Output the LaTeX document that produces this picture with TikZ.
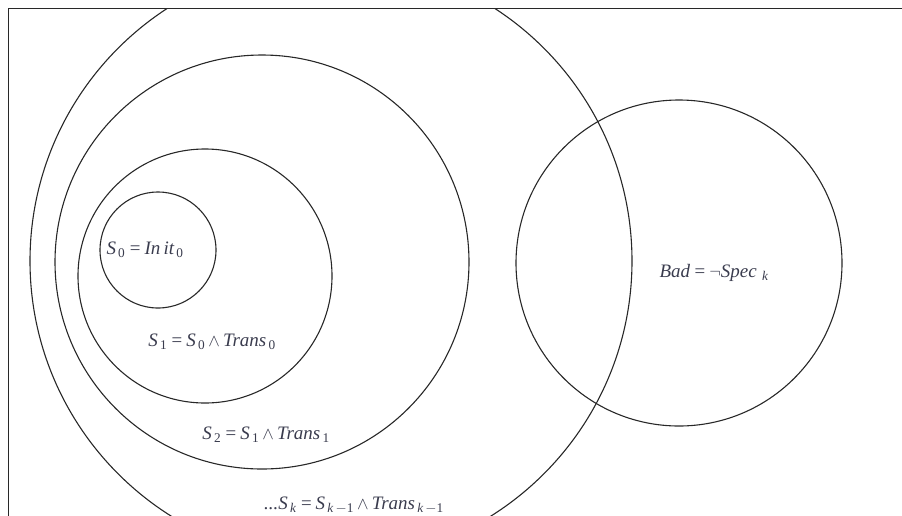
\documentclass[tikz,border=0pt]{standalone}
\usepackage{fontspec}
\setmainfont{Liberation Serif}
\usepackage{tikz}
\usetikzlibrary{positioning}

\definecolor{labelgray}{RGB}{58,60,78}
\definecolor{linegray}{RGB}{40,40,40}

\newcommand{\sub}[1]{\textsubscript{\,#1}}

\begin{document}
\begin{tikzpicture}[
    x=1pt, y=-1pt,
    ring/.style={circle, draw=linegray, line width=1.1pt, inner sep=0pt},
    setlabel/.style={text=labelgray, font=\fontsize{19}{22}\selectfont\itshape, inner sep=0pt},
    frame/.style={draw=linegray, line width=1.2pt}
]
\useasboundingbox (0,0) rectangle (902,515);

% Outer frame
\draw[frame] (8.5,540) -- (8.5,8.5) -- (930,8.5);

\begin{scope}
\clip (8.5,8.5) rectangle (902,515);

% Reachable sets
\node[ring, minimum size=602pt] (sk) at (331,261) {};
\node[ring, minimum size=414pt] (s2) at (262,262) {};
\node[ring, minimum size=254pt] (s1) at (205,276) {};
\node[ring, minimum size=116pt] (s0) at (158,250) {};

% Bad states
\node[ring, minimum size=326pt] (bad) at (679,263) {};

% Labels
\node[setlabel] (l0) at (145,250) {S\sub{\upshape 0}\,=\,In\,it\sub{\upshape 0}};
\node[setlabel] (l1) at (212,342) {S\sub{\upshape 1}\,=\,S\sub{\upshape 0}\,$\wedge$\,Trans\sub{\upshape 0}};
\node[setlabel] (l2) at (266,435) {S\sub{\upshape 2}\,=\,S\sub{\upshape 1}\,$\wedge$\,Trans\sub{\upshape 1}};
\node[setlabel] (lk) at (354,505) {...S\sub{k}\,=\,S\sub{k\,\upshape$-$1}\,$\wedge$\,Trans\sub{k\,\upshape$-$1}};
\node[setlabel] (lbad) at (714,273) {Bad\,=\,$\neg$Spec\,\sub{k}};
\end{scope}

\end{tikzpicture}
\end{document}
